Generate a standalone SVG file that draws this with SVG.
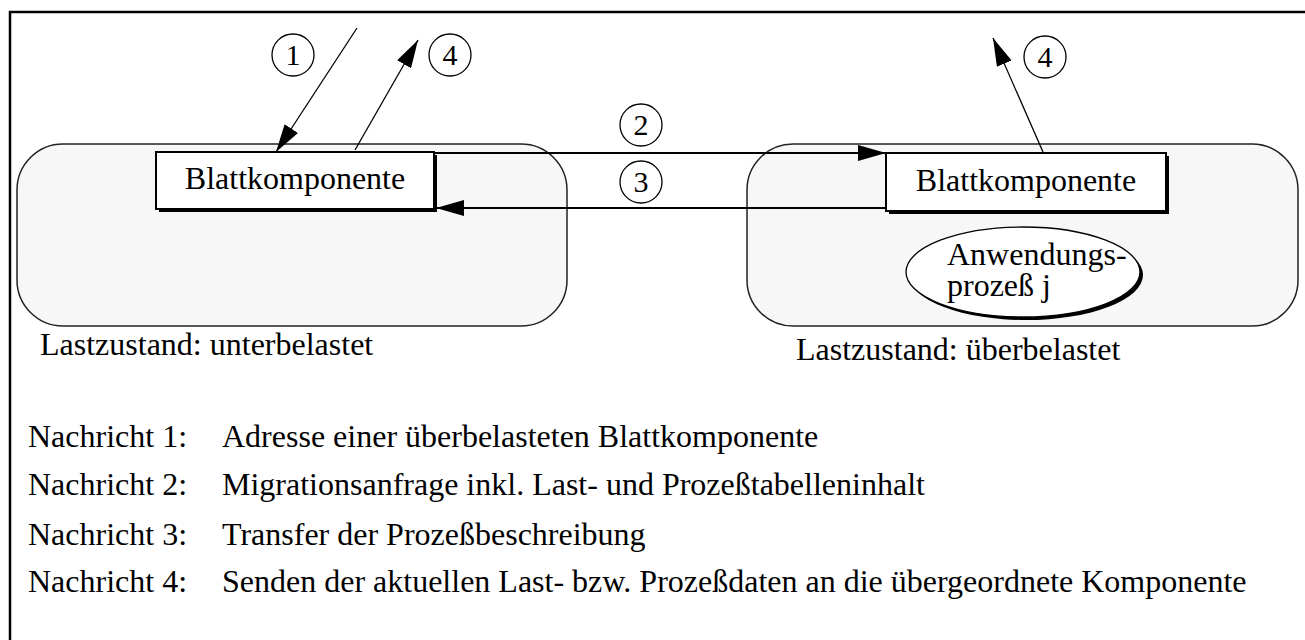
<svg xmlns="http://www.w3.org/2000/svg" width="1305" height="640" viewBox="0 0 1305 640">
<style>
text{font-family:"Liberation Serif","Times New Roman",serif;fill:#000}
.t{font-size:32px}
.n{font-size:30px;text-anchor:middle}
.host{fill:#f7f7f7;stroke:#222;stroke-width:1.5}
.box{fill:#fff;stroke:#000;stroke-width:2}
.sh{fill:#000}
.num{fill:#fff;stroke:#000;stroke-width:1.3}
.c{stroke:#000;fill:none}
</style>
<defs>
<marker id="ah" markerUnits="userSpaceOnUse" markerWidth="28" markerHeight="16" refX="28" refY="8" orient="auto">
<path d="M0,0 L28,8 L0,16 z" fill="#000"/>
</marker>
</defs>
<rect width="1305" height="640" fill="#fff"/>
<path d="M10,640 V12 H1305" fill="none" stroke="#000" stroke-width="2.5"/>

<g id="host-left">
<rect class="host" x="17" y="144" width="550" height="182" rx="46" ry="46"/>
<text class="t" x="40" y="355">Lastzustand: unterbelastet</text>
</g>
<g id="host-right">
<rect class="host" x="747" y="144" width="551" height="182" rx="46" ry="46"/>
<text class="t" x="796" y="360">Lastzustand: überbelastet</text>
</g>

<g id="leaf-left">
<rect class="sh" x="159" y="155" width="278" height="57"/>
<rect class="box" x="156" y="152" width="278" height="57"/>
<text class="t" x="295" y="189" text-anchor="middle">Blattkomponente</text>
</g>
<g id="leaf-right">
<rect class="sh" x="889" y="156" width="280" height="58"/>
<rect class="box" x="886" y="153" width="280" height="58"/>
<text class="t" x="1026" y="191" text-anchor="middle">Blattkomponente</text>
</g>
<g id="process">
<ellipse cx="1026" cy="275" rx="117" ry="45" fill="#000"/>
<ellipse cx="1023" cy="272" rx="117" ry="45" fill="#fff" stroke="#000" stroke-width="1.3"/>
<text class="t" x="947" y="265">Anwendungs-</text>
<text class="t" x="947" y="296">prozeß j</text>
</g>

<g id="connectors">
<line class="c" stroke-width="1.3" x1="357" y1="28" x2="276" y2="152" marker-end="url(#ah)"/>
<line class="c" stroke-width="1.3" x1="355" y1="150" x2="418" y2="40" marker-end="url(#ah)"/>
<line class="c" stroke-width="1.3" x1="1043" y1="152" x2="993" y2="38" marker-end="url(#ah)"/>
<line class="c" stroke-width="2" x1="434" y1="153" x2="886" y2="153" marker-end="url(#ah)"/>
<line class="c" stroke-width="2" x1="886" y1="208" x2="436" y2="208" marker-end="url(#ah)"/>
</g>

<g id="labels">
<circle class="num" cx="293" cy="55" r="21"/><text class="n" x="293" y="65">1</text>
<circle class="num" cx="450" cy="55" r="21"/><text class="n" x="450" y="65">4</text>
<circle class="num" cx="1045" cy="57" r="21"/><text class="n" x="1045" y="67">4</text>
<circle class="num" cx="641" cy="125" r="21"/><text class="n" x="641" y="135">2</text>
<circle class="num" cx="641" cy="182" r="21"/><text class="n" x="641" y="192">3</text>
</g>

<g id="legend">
<text class="t" x="28" y="447">Nachricht 1:</text><text class="t" x="222" y="447">Adresse einer überbelasteten Blattkomponente</text>
<text class="t" x="28" y="495">Nachricht 2:</text><text class="t" x="222" y="495">Migrationsanfrage inkl. Last- und Prozeßtabelleninhalt</text>
<text class="t" x="28" y="545">Nachricht 3:</text><text class="t" x="222" y="545">Transfer der Prozeßbeschreibung</text>
<text class="t" x="28" y="592">Nachricht 4:</text><text class="t" x="222" y="592">Senden der aktuellen Last- bzw. Prozeßdaten an die übergeordnete Komponente</text>
</g>
</svg>
